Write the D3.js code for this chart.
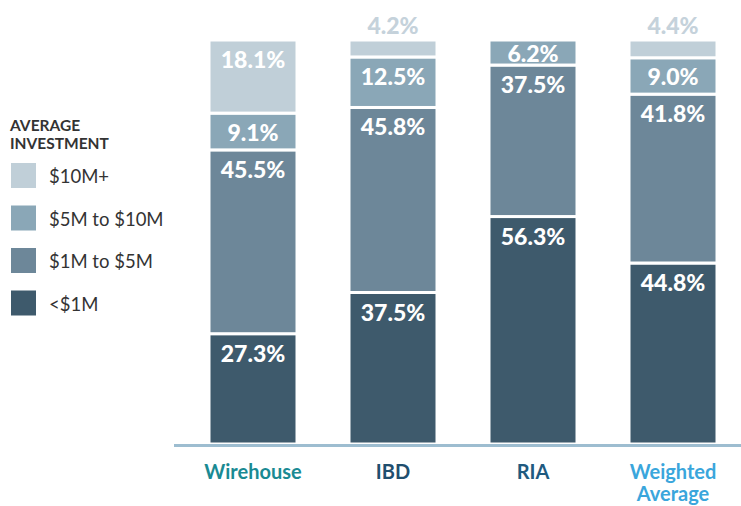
<!DOCTYPE html>
<html>
<head>
<meta charset="utf-8">
<script src="https://cdn.jsdelivr.net/npm/d3@7"></script>
<style>
  body { margin: 0; background: #fff; }
  svg { display: block; font-family: Lato, "Open Sans", sans-serif; }
</style>
</head>
<body>
<svg id="canvas" width="741" height="506"></svg>
<script>
// channel names and investment buckets
const channels = ['Wirehouse', 'IBD', 'RIA', 'Weighted Average']
const buckets = ['<$1M', '$1M to $5M', '$5M to $10M', '$10M+']
// share of advisors per bucket, same order as buckets
const under1M = [27.3, 37.5, 56.3, 44.8]
const from1to5M = [45.5, 45.8, 37.5, 41.8]
const from5to10M = [9.1, 12.5, 6.2, 9.0]
const over10M = [18.1, 4.2, 0, 4.4]
const channelColors = ['#1a8a93', '#1f4e6e', '#1f5a80', '#3aa6dc']
const bucketColors = ['#3e5a6c', '#6d8799', '#8aa7b7', '#c0cfd8']

var canvas = d3.select('#canvas')

// step 140, bar width 88
var x = d3.scaleBand()
  .domain(channels)
  .range([183, 743])
  .paddingInner(52 / 140)
  .paddingOuter(26 / 140)

var y = d3.scaleLinear().domain([0, 100]).range([444, 40])

var rows = channels.map(function(c, i) {
  return { channel: c, '<$1M': under1M[i], '$1M to $5M': from1to5M[i], '$5M to $10M': from5to10M[i], '$10M+': over10M[i] }
})
var series = d3.stack().keys(buckets)(rows)

series.forEach(function(s, k) {
  var g = canvas.append('g')
  s.forEach(function(d) {
    var v = d[1] - d[0]
    if (v <= 0) return
    var top = y(d[1])
    var h = y(d[0]) - y(d[1])
    g.append('rect')
      .attr('x', x(d.data.channel))
      .attr('width', x.bandwidth())
      .attr('y', top)
      .attr('height', h)
      .attr('fill', bucketColors[k])
      .attr('stroke', '#fff')
      .attr('stroke-width', 3)

    // tiny segments get their label above the bar
    var small = h < 20
    g.append('text')
      .attr('x', x(d.data.channel) + x.bandwidth() / 2)
      .attr('y', small ? top - 15 : top + Math.min(h / 2, 19))
      .attr('text-anchor', 'middle')
      .attr('dominant-baseline', 'central')
      .attr('fill', small ? '#c5d2db' : '#fff')
      .style('font-size', '23px')
      .style('font-weight', 900)
      .text(v.toFixed(1) + '%')
  })
})

// baseline
canvas.append('line')
  .attr('x1', 174).attr('x2', 741)
  .attr('y1', 445.5).attr('y2', 445.5)
  .style('stroke', '#9dbdd0')
  .style('stroke-width', 3)

// category labels, two lines for the last one
channels.forEach(function(c, i) {
  var words = c === 'Weighted Average' ? ['Weighted', 'Average'] : [c]
  words.forEach(function(w, j) {
    canvas.append('text')
      .attr('x', x(c) + x.bandwidth() / 2)
      .attr('y', 479 + j * 22)
      .attr('text-anchor', 'middle')
      .attr('fill', channelColors[i])
      .style('font-size', '20px')
      .style('font-weight', 'bold')
      .text(w)
  })
})

// legend
canvas.append('text')
  .attr('x', 10).attr('y', 131)
  .attr('fill', '#333')
  .style('font-size', '15.5px').style('font-weight', 'bold')
  .text('AVERAGE')
canvas.append('text')
  .attr('x', 10).attr('y', 149)
  .attr('fill', '#333')
  .style('font-size', '15.5px').style('font-weight', 'bold')
  .text('INVESTMENT')

var legendOrder = buckets.slice().reverse()
legendOrder.forEach(function(b, i) {
  var k = buckets.indexOf(b)
  canvas.append('rect')
    .attr('x', 11).attr('y', 163 + i * 42.5)
    .attr('width', 25).attr('height', 25)
    .attr('fill', bucketColors[k])
  canvas.append('text')
    .attr('x', 49).attr('y', 176 + i * 42.5)
    .attr('dominant-baseline', 'central')
    .attr('fill', '#333')
    .style('font-size', '18.5px')
    .text(b)
})
</script>
</body>
</html>
